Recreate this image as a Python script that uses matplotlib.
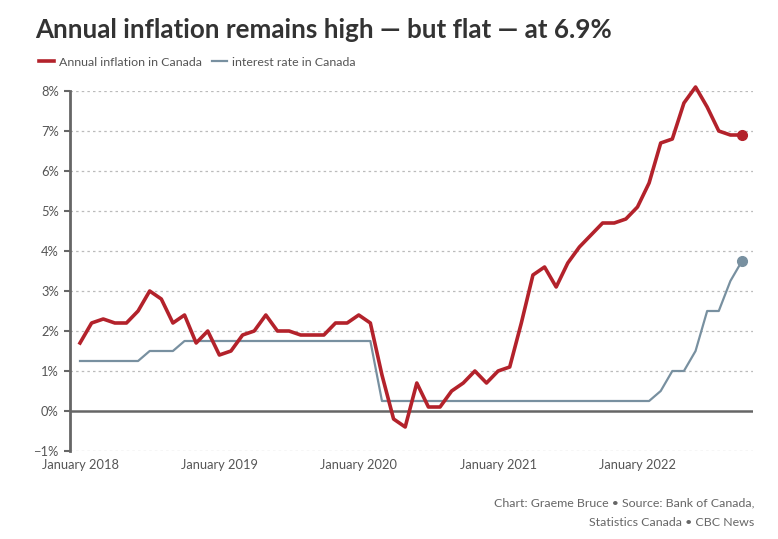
import matplotlib
matplotlib.use("Agg")
import matplotlib.pyplot as plt
import numpy as np
from matplotlib.lines import Line2D

months = [f"{y}-{m:02d}" for y in range(2018, 2023) for m in range(1, 13)][:58]
inflation = [1.7, 2.2, 2.3, 2.2, 2.2, 2.5, 3.0, 2.8, 2.2, 2.4, 1.7, 2.0,
             1.4, 1.5, 1.9, 2.0, 2.4, 2.0, 2.0, 1.9, 1.9, 1.9, 2.2, 2.2,
             2.4, 2.2, 0.9, -0.2, -0.4, 0.7, 0.1, 0.1, 0.5, 0.7, 1.0, 0.7,
             1.0, 1.1, 2.2, 3.4, 3.6, 3.1, 3.7, 4.1, 4.4, 4.7, 4.7, 4.8,
             5.1, 5.7, 6.7, 6.8, 7.7, 8.1, 7.6, 7.0, 6.9, 6.9]
interest = [1.25]*6 + [1.5]*3 + [1.75]*3 + \
           [1.75]*12 + \
           [1.75, 1.75] + [0.25]*10 + \
           [0.25]*12 + \
           [0.25, 0.25, 0.5, 1.0, 1.0, 1.5, 2.5, 2.5, 3.25, 3.75]
yticks = [-1, 0, 1, 2, 3, 4, 5, 6, 7, 8]
xtick_labels = ["January 2018", "January 2019", "January 2020", "January 2021", "January 2022"]
xtick_months = ["2018-01", "2019-01", "2020-01", "2021-01", "2022-01"]

RED = "#b3222b"
BLUE = "#7890a0"
plt.rcParams['font.family'] = ['Lato', 'DejaVu Sans']

fig = plt.figure(figsize=(7.78, 5.39), dpi=100)
ax = fig.add_axes([70/778, 1-451/539, (753-70)/778, (451-91)/539])

x = np.arange(len(months))
ax.plot(x, interest, color=BLUE, lw=1.6, zorder=3, solid_joinstyle='round', clip_on=False)
ax.plot(x, inflation, color=RED, lw=2.6, zorder=4, solid_joinstyle='round', clip_on=False)
ax.plot(x[-1], inflation[-1], 'o', color=RED, ms=7, zorder=5, clip_on=False)
ax.plot(x[-1], interest[-1], 'o', color=BLUE, ms=7, zorder=5, clip_on=False)

ax.set_xlim((70-80)/11.614, (753-80)/11.614)
ax.set_ylim(-1, 8)
ax.set_yticks(yticks)
ax.set_yticklabels([("\u2212" if v < 0 else "") + f"{abs(v)}%" for v in yticks])
for v in yticks:
    if v != 0:
        ax.axhline(v, color="#bbbbbb", lw=0.9, ls=(0, (2, 2.5)), zorder=1)
ax.axhline(0, color="#666666", lw=1.8, zorder=2)

ax.set_xticks([months.index(m) for m in xtick_months])
ax.set_xticklabels(xtick_labels)
ax.tick_params(axis='x', length=0, pad=6, labelsize=9.3, labelcolor="#555555")
ax.tick_params(axis='y', length=4, width=1.5, color="#666666", pad=4, labelsize=9.3, labelcolor="#555555")
for s in ["top", "right", "bottom"]:
    ax.spines[s].set_visible(False)
ax.spines["left"].set_color("#666666")
ax.spines["left"].set_linewidth(2)

fig.text(35/778, 1-30/539, "Annual inflation remains high \u2014 but flat \u2014 at 6.9%",
         fontsize=18.7, fontweight='bold', color="#333333", va='center', ha='left')

handles = [Line2D([], [], color=RED, lw=2.6), Line2D([], [], color=BLUE, lw=1.6)]
leg = fig.legend(handles, ["Annual inflation in Canada", "interest rate in Canada"],
                 loc='center left', bbox_to_anchor=(28/778, 1-62/539), ncol=2, frameon=False,
                 handlelength=1.2, handletextpad=0.4, columnspacing=0.8, fontsize=8.9)
for t in leg.get_texts():
    t.set_color("#555555")

fig.text(754/778, 1-503/539, "Chart: Graeme Bruce \u2022 Source: Bank of Canada,",
         ha='right', va='center', fontsize=8.9, color="#666666")
fig.text(754/778, 1-522/539, "Statistics Canada \u2022 CBC News",
         ha='right', va='center', fontsize=8.9, color="#666666")

fig.savefig("out.png", dpi=100)
